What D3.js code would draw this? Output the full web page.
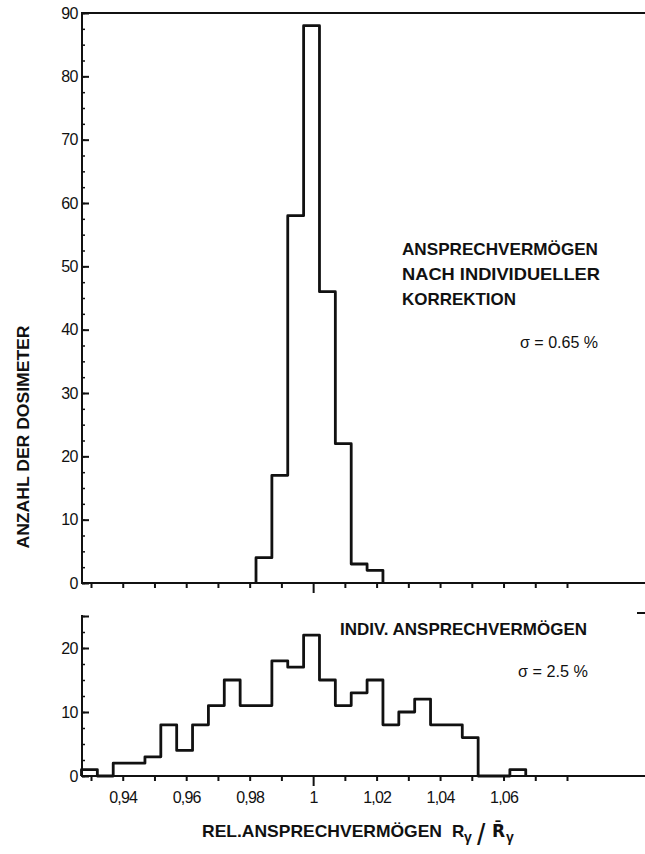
<!DOCTYPE html>
<html>
<head>
<meta charset="utf-8">
<script src="https://cdn.jsdelivr.net/npm/d3@7"></script>
<style>
  body { margin: 0; background: #fff; }
  svg { display: block; font-family: "Liberation Sans", Arial, sans-serif; }
</style>
</head>
<body>
<svg id="chart" width="645" height="854"></svg>
<script>
// histogram bins: lower edge of each bin, bin width 0.005
const binWidth = 0.005;

const topEdges = [0.982, 0.987, 0.992, 0.997, 1.002, 1.007, 1.012, 1.017];
const topCounts = [4, 17, 58, 88, 46, 22, 3, 2];

const bottomEdges = [0.927, 0.932, 0.937, 0.942, 0.947, 0.952, 0.957, 0.962, 0.967, 0.972,
    0.977, 0.982, 0.987, 0.992, 0.997, 1.002, 1.007, 1.012, 1.017, 1.022,
    1.027, 1.032, 1.037, 1.042, 1.047, 1.052, 1.057, 1.062];
const bottomCounts = [1, 0, 2, 2, 3, 8, 4, 8, 11, 15,
    11, 11, 18, 17, 22, 15, 11, 13, 15, 8,
    10, 12, 8, 8, 6, 0, 0, 1];

const xTicks = [0.93, 0.94, 0.95, 0.96, 0.97, 0.98, 0.99, 1.00, 1.01, 1.02, 1.03, 1.04, 1.05, 1.06, 1.07, 1.08];
const xLabelValues = [0.94, 0.96, 0.98, 1.00, 1.02, 1.04, 1.06];
const xLabels = ["0,94", "0,96", "0,98", "1", "1,02", "1,04", "1,06"];

const topYTicks = [0, 10, 20, 30, 40, 50, 60, 70, 80, 90];
const bottomYTicks = [0, 10, 20, 25];
const bottomYLabels = ["0", "10", "20", ""];

const svg = d3.select("#chart");
const left = 82, right = 645;

const x = d3.scaleLinear().domain([0.93, 1.08]).range([91, 567]);
const yTop = d3.scaleLinear().domain([0, 90]).range([583, 13]);
const yBot = d3.scaleLinear().domain([0, 25]).range([776, 616]);

function frameLine(x1, y1, x2, y2, w) {
    svg.append("line")
        .attr("x1", x1).attr("y1", y1).attr("x2", x2).attr("y2", y2)
        .attr("stroke", "#111").attr("stroke-width", w || 2)
        .attr("stroke-linecap", "square");
}

function yAxis(y, ticks, labels, minorMax) {
    // minor ticks every 2.5
    const minor = svg.append("g")
        .attr("transform", `translate(${left},0)`)
        .call(d3.axisLeft(y).tickValues(d3.range(0, minorMax + 0.1, 2.5)).tickSize(-3).tickFormat(""));
    minor.select(".domain").remove();
    minor.selectAll("line").attr("stroke", "#111").attr("stroke-width", 1.5);

    const g = svg.append("g")
        .attr("transform", `translate(${left},0)`)
        .call(d3.axisLeft(y).tickValues(ticks).tickSize(-7).tickPadding(4)
            .tickFormat((d, i) => labels ? labels[i] : d));
    g.select(".domain").remove();
    g.selectAll("line").attr("stroke", "#111").attr("stroke-width", 2);
    g.selectAll("text").attr("font-size", 16).attr("fill", "#111")
        .attr("letter-spacing", -0.5)
        .attr("font-family", "Liberation Sans, Arial, sans-serif");
}

function xAxis(yPos, withLabels) {
    const g = svg.append("g")
        .attr("transform", `translate(0,${yPos})`)
        .call(d3.axisBottom(x).tickValues(xTicks).tickSize(5).tickPadding(11)
            .tickFormat(d => {
                const i = xLabelValues.findIndex(v => Math.abs(v - d) < 1e-6);
                return withLabels && i >= 0 ? xLabels[i] : "";
            }));
    g.select(".domain").remove();
    g.selectAll("line").attr("stroke", "#111").attr("stroke-width", 2)
        .attr("y2", d => Math.abs(d - 1) < 1e-6 ? 10 : 5);
    g.selectAll("text").attr("font-size", 16).attr("fill", "#111")
        .attr("letter-spacing", -0.8)
        .attr("font-family", "Liberation Sans, Arial, sans-serif");
}

function histogram(edges, counts, y) {
    const pts = [[edges[0], 0]];
    edges.forEach((e, i) => {
        pts.push([e, counts[i]]);
        pts.push([e + binWidth, counts[i]]);
    });
    pts.push([edges[edges.length - 1] + binWidth, 0]);
    svg.append("path")
        .attr("d", d3.line().x(d => x(d[0])).y(d => y(d[1]))(pts))
        .attr("fill", "none")
        .attr("stroke", "#111")
        .attr("stroke-width", 2.8)
        .attr("stroke-linejoin", "round");
}

// top panel
frameLine(left, yTop(90), right, yTop(90));
frameLine(left, yTop(90), left, yTop(0));
frameLine(left, yTop(0), right, yTop(0));
yAxis(yTop, topYTicks, null, 90);
xAxis(yTop(0), false);
histogram(topEdges, topCounts, yTop);

// bottom panel
frameLine(left, yBot(25), left, yBot(0));
frameLine(left, yBot(0), right, yBot(0));
frameLine(638, 613, right, 613);
yAxis(yBot, bottomYTicks, bottomYLabels, 25);
xAxis(yBot(0), true);
histogram(bottomEdges, bottomCounts, yBot);

// annotations
const bold = { "font-weight": "bold", "font-size": 17, "fill": "#111" };
function label(txt, tx, ty, len, attrs) {
    const t = svg.append("text").attr("x", tx).attr("y", ty).text(txt);
    Object.entries(attrs || bold).forEach(([k, v]) => t.attr(k, v));
    if (len) t.attr("textLength", len).attr("lengthAdjust", "spacingAndGlyphs");
    return t;
}

label("ANSPRECHVERMÖGEN", 402, 255, 196);
label("NACH INDIVIDUELLER", 402, 280, 198);
label("KORREKTION", 402, 305, 114);
label("σ = 0.65 %", 520, 348, 78, { "font-size": 16, "fill": "#111" });

label("INDIV. ANSPRECHVERMÖGEN", 340, 635, 247);
label("σ = 2.5 %", 518, 677, 70, { "font-size": 16, "fill": "#111" });

// y title
svg.append("text")
    .attr("transform", "rotate(-90)")
    .attr("x", -437).attr("y", 28.5)
    .attr("text-anchor", "middle")
    .attr("font-weight", "bold").attr("font-size", 17).attr("fill", "#111")
    .attr("textLength", 223).attr("lengthAdjust", "spacingAndGlyphs")
    .text("ANZAHL DER DOSIMETER");

// x title
label("REL.ANSPRECHVERMÖGEN", 202, 837, 240);
label("R", 452, 837, null);
label("γ", 464, 842, null, { "font-weight": "bold", "font-size": 14, "fill": "#111" });
label("/", 477, 845, null, { "font-size": 30, "fill": "#111" });
label("R\u0304", 492, 837, null, { "font-weight": "bold", "font-size": 17, "fill": "#111", "font-family": "DejaVu Sans" });
label("γ", 506, 842, null, { "font-weight": "bold", "font-size": 14, "fill": "#111" });
</script>
</body>
</html>
